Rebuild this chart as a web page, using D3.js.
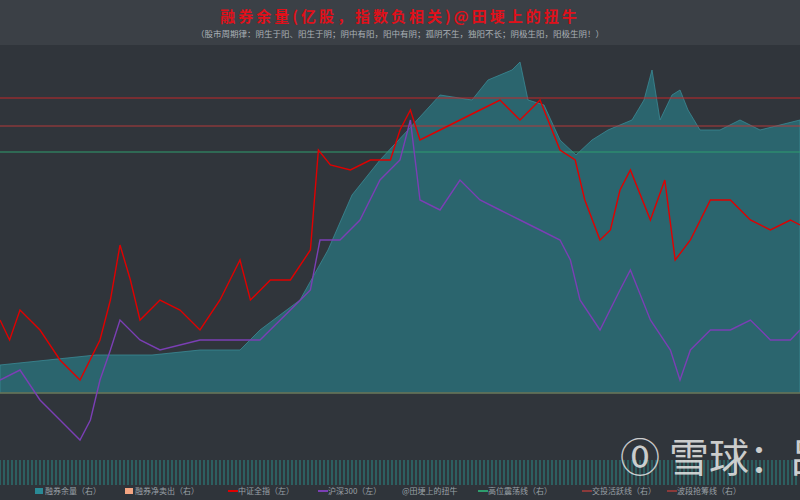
<!DOCTYPE html>
<html><head><meta charset="utf-8">
<script src="https://cdn.jsdelivr.net/npm/d3@7"></script>
<style>body{margin:0;background:#2f343a}</style>
</head><body><div id="c"></div>
<script>
// time position (0..100) and series values
const tBalance = [0,6,12,19,25,30,32.5,37.5,41,44,47.5,51,55,59,61,64,65,66,68,70,72,74,76,79,80.5,81.5,82.5,84,85,86,87.5,90,92.5,95,97.5,100];
const balance  = [135,140,145,145,150,150,170,200,250,305,340,370,405,400,420,430,438,400,395,360,345,360,370,380,400,430,380,405,410,390,370,370,380,370,375,380];
const tIndex = [0,1.2,2.5,5,7.5,10,12.5,13.8,15,16.3,17.5,20,22.5,25,27.5,30,31.3,33.8,36.3,38.8,39.8,41.3,43.8,46.3,48.8,50,51.3,52.5,55,57.5,60,62.5,65,67.5,70,71.9,73.1,75,76.3,77.5,78.8,81.3,83.1,84.4,86.3,88.8,91.3,93.8,96.3,98.8,100];
const csi = [180,160,190,170,140,120,160,200,255,220,180,200,190,170,200,240,200,220,220,250,350,335,330,340,340,370,390,360,370,380,390,400,380,400,350,340,300,260,270,310,330,280,320,240,260,300,300,280,270,280,275];
const tHs = [0,2.5,5,7.5,10,11.3,12.5,13.8,15,17.5,20,25,30,32.5,36.3,38.8,40,42.5,45,47.5,50,51.3,52.5,55,57.5,60,62.5,65,67.5,70,71.3,72.5,75,77.5,78.8,81.3,83.8,85,86.3,88.8,91.3,93.8,96.3,98.8,100];
const hs300 = [120,130,100,80,60,80,120,150,180,160,150,160,160,160,190,210,260,260,280,320,340,380,300,290,320,300,290,280,270,260,240,200,170,210,230,180,150,120,150,170,170,180,160,160,170];
const refLines = [{v:402,c:'#c0282b'},{v:374,c:'#b23a3a'},{v:348,c:'#2e9e6e'}];
const legend = [['融券余量（右）','#2a8a96','rect'],['融券净卖出（右）','#f4a582','rect'],['中证全指（左）','#e00000','line'],['沪深300（左）','#7b3fb5','line'],['@田埂上的扭牛','none','none'],['高位震荡线（右）','#2e9e6e','line'],['交投活跃线（右）','#8b3a3a','line'],['波段抢筹线（右）','#8b3a3a','line']];

const W=800,H=500;
const svg=d3.select('#c').append('svg').attr('width',W).attr('height',H).style('background','#30353b');
svg.append('rect').attr('width',W).attr('height',45).attr('fill','#3b4046');
svg.append('text').attr('x',400).attr('y',22).attr('text-anchor','middle').attr('fill','#e0101a')
  .attr('font-family','Noto Sans CJK SC').attr('font-weight','bold').attr('font-size',15).attr('letter-spacing',3)
  .text('融券余量(亿股，指数负相关)@田埂上的扭牛');
svg.append('text').attr('x',400).attr('y',37).attr('text-anchor','middle').attr('fill','#aab0b6')
  .attr('font-family','Noto Sans CJK SC').attr('font-size',8.5)
  .text('（股市周期律：阴生于阳、阳生于阴；阴中有阳，阳中有阴；孤阴不生，独阳不长；阴极生阳，阳极生阴！）');

const x=d3.scaleLinear().domain([0,100]).range([0,W]);
const y=d3.scaleLinear().domain([0,500]).range([500,0]);

// bottom hatched strip
const strip=svg.append('g');
d3.range(0,W,4).forEach(i=>strip.append('line').attr('x1',i).attr('x2',i).attr('y1',460).attr('y2',485).attr('stroke','#2d6e6e').attr('stroke-width',1.5));
svg.append('rect').attr('y',485).attr('width',W).attr('height',15).attr('fill','#2f343a');

const area=d3.area().x((d,i)=>x(tBalance[i])).y0(y(107)).y1(d=>y(d));
svg.append('path').datum(balance).attr('fill','#2b6a74').attr('fill-opacity',0.9).attr('stroke','#3a8a96').attr('stroke-width',0.8).attr('d',area);
svg.append('line').attr('x1',0).attr('x2',W).attr('y1',y(107)).attr('y2',y(107)).attr('stroke','#6a6f50').attr('stroke-width',1.5);

refLines.forEach(r=>svg.append('line').attr('x1',0).attr('x2',W).attr('y1',y(r.v)).attr('y2',y(r.v)).attr('stroke',r.c).attr('stroke-width',1));

const line=(ts)=>d3.line().x((d,i)=>x(ts[i])).y(d=>y(d));
svg.append('path').datum(hs300).attr('fill','none').attr('stroke','#7b3fb5').attr('stroke-width',1.4).attr('d',line(tHs));
svg.append('path').datum(csi).attr('fill','none').attr('stroke','#e00000').attr('stroke-width',1.4).attr('d',line(tIndex));

svg.append('text').attr('x',620).attr('y',472).attr('fill','#e8e8e8').attr('fill-opacity',0.85).attr('font-family','Noto Sans CJK SC').attr('font-size',40).text('⓪ 雪球：吕');

const lg=svg.append('g').attr('font-family','Noto Sans CJK SC').attr('font-size',8).attr('fill','#9aa0a6');
const lx=[35,125,228,318,402,478,582,667];
legend.forEach((l,i)=>{
  const g=lg.append('g').attr('transform',`translate(${lx[i]},492)`);
  if(l[2]=='rect') g.append('rect').attr('y',-4).attr('width',8).attr('height',6).attr('fill',l[1]);
  if(l[2]=='line') g.append('line').attr('x1',0).attr('x2',10).attr('y1',-1).attr('y2',-1).attr('stroke',l[1]).attr('stroke-width',2);
  g.append('text').attr('x',l[2]=='none'?0:10).attr('y',2).attr('fill','#9aa0a6').text(l[0]);
});
</script></body></html>
